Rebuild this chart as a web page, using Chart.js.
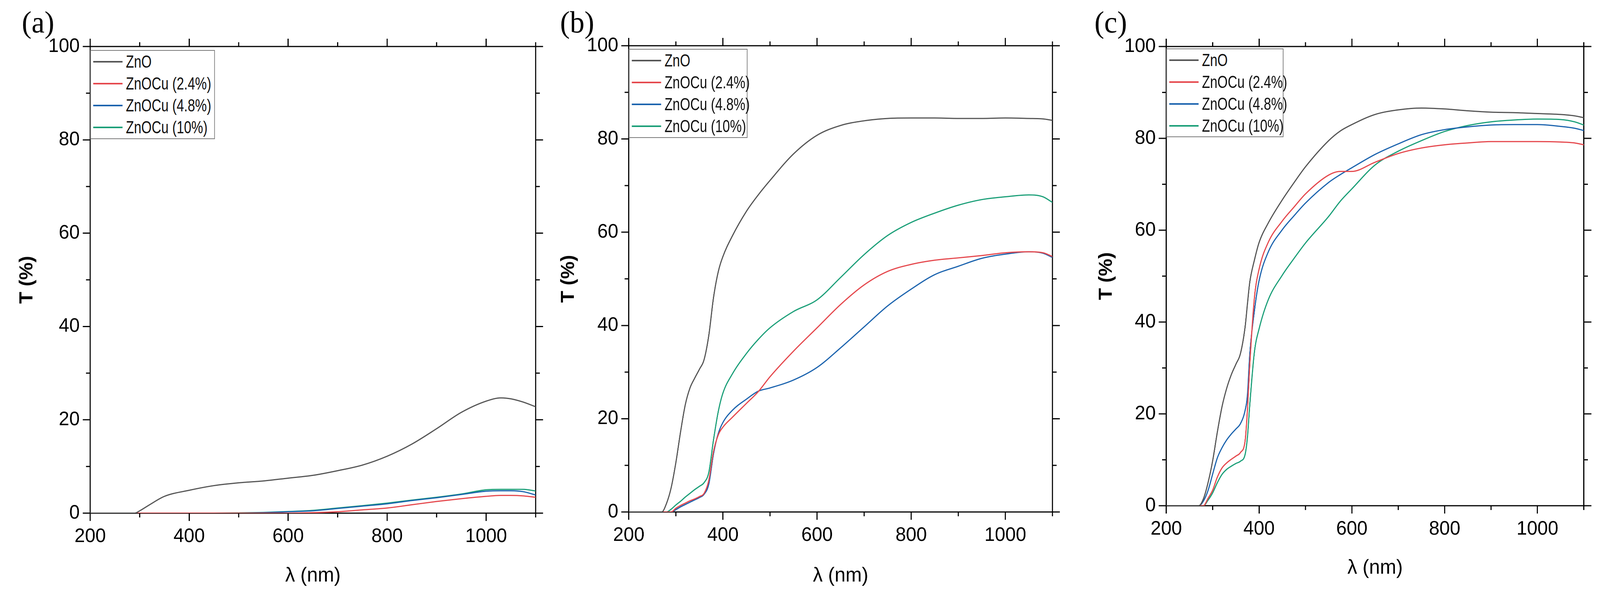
<!DOCTYPE html>
<html>
<head>
<meta charset="utf-8">
<script src="https://cdn.jsdelivr.net/npm/chart.js@4.4.1/dist/chart.umd.min.js"></script>
<style>
  html, body { margin: 0; padding: 0; background: #fff; overflow: hidden; }
  #stage { position: absolute; left: 0; top: 0; width: 4257px; height: 1525px; transform-origin: 0 0; background: #fff; }
  canvas { position: absolute; top: 0; }
  .tag { position: absolute; top: 18px; font-family: 'Liberation Serif', 'Times New Roman', serif; font-size: 78px; line-height: 1; color: #000; }
  .legend { position: absolute; box-sizing: border-box; border: 2px solid #7a7a7a; background: #fff;
            font-family: 'Liberation Sans', Arial, sans-serif; font-size: 44px; color: #111; }
  .legend .row { height: 56px; display: flex; align-items: center; white-space: nowrap; }
  .legend .sw { display: inline-block; width: 78px; height: 4px; margin: 0 9px 0 6px; flex: none; }
  .legend .txt { display: inline-block; transform: scaleX(0.8); transform-origin: 0 50%; }
</style>
</head>
<body>
<div id="stage">
  <canvas id="pa" width="1450" height="1525" style="left:0px"></canvas>
  <canvas id="pb" width="1390" height="1525" style="left:1450px"></canvas>
  <canvas id="pc" width="1417" height="1525" style="left:2840px"></canvas>
  <div class="tag" style="left:58px">(a)</div>
  <div class="tag" style="left:1490px">(b)</div>
  <div class="tag" style="left:2912px">(c)</div>
  <div class="legend" id="lga" style="left:240px;top:128px;width:332px;height:228px"></div>
  <div class="legend" id="lgb" style="left:1673px;top:125px;width:316px;height:228px"></div>
  <div class="legend" id="lgc" style="left:3103px;top:124px;width:312px;height:227px"></div>
</div>
<script>
// series names and colours
const names = ['ZnO', 'ZnOCu (2.4%)', 'ZnOCu (4.8%)', 'ZnOCu (10%)'];
const colors = ['#555555', '#e5484d', '#1b63ae', '#1b9f78'];

// tick positions
const xMinor = [300, 500, 700, 900, 1100];
const yMinor = [10, 30, 50, 70, 90];

// (a) wavelength (nm) and T (%)
const wlA = [200, 250, 290, 300, 320, 350, 400, 450, 500, 550, 600, 650, 700, 750, 800, 850, 900, 950, 1000, 1030, 1050, 1075, 1100];
const znoA = [0, 0, 0, 0.5, 1.8, 3.6, 4.9, 5.9, 6.5, 6.9, 7.5, 8.1, 9.1, 10.3, 12.2, 14.8, 18.1, 21.6, 24.0, 24.7, 24.5, 23.8, 22.8];
const cu24A = [0, 0, 0, 0, 0, 0, 0, 0, 0, 0, 0, 0.1, 0.3, 0.7, 1.1, 1.8, 2.5, 3.1, 3.6, 3.8, 3.8, 3.7, 3.4];
const cu48A = [0, 0, 0, 0, 0, 0, 0, 0, 0, 0.1, 0.3, 0.5, 1.0, 1.5, 2.0, 2.7, 3.3, 4.0, 4.7, 4.8, 4.8, 4.6, 3.9];
const cu10A = [0, 0, 0, 0, 0, 0, 0, 0, 0.05, 0.15, 0.35, 0.6, 1.1, 1.6, 2.15, 2.8, 3.4, 4.1, 5.0, 5.1, 5.1, 5.1, 4.75];

// (b)
const wlB = [200, 250, 270, 280, 290, 300, 310, 320, 330, 340, 350, 360, 370, 380, 390, 400, 420, 450, 475, 500, 550, 600, 650, 700, 750, 800, 850, 900, 950, 1000, 1050, 1080, 1100];
const znoB = [0, 0, 0, 1.8, 5.2, 10.6, 17.2, 23.0, 26.6, 28.7, 30.6, 32.7, 37.9, 46, 51.5, 54.8, 59.2, 64.5, 68, 71.1, 76.8, 80.8, 82.9, 83.9, 84.4, 84.5, 84.5, 84.4, 84.4, 84.5, 84.4, 84.3, 84.0];
const cu24B = [0, 0, 0, 0, 0, 0.8, 1.4, 1.9, 2.4, 2.8, 3.3, 4.0, 6.8, 13, 16.5, 18.2, 20.3, 23.3, 25.8, 29.0, 34.5, 39.5, 44.5, 48.7, 51.6, 53.1, 54.0, 54.5, 55.0, 55.6, 55.8, 55.6, 54.8];
const cu48B = [0, 0, 0, 0, 0, 0.5, 1.1, 1.6, 2.1, 2.6, 3.1, 3.8, 6.0, 12.5, 16.8, 19.2, 21.8, 24.2, 25.9, 26.6, 28.3, 31.0, 35.2, 39.7, 44.2, 47.8, 50.9, 52.7, 54.4, 55.3, 55.8, 55.5, 54.6];
const cu10B = [0, 0, 0, 0, 0.6, 1.5, 2.3, 3.2, 4.0, 4.8, 5.5, 6.3, 8.5, 15.5, 21.5, 25.5, 29.6, 34, 37, 39.5, 43, 45.5, 50.3, 55.2, 59.3, 62.1, 64.1, 65.8, 67.0, 67.6, 68.0, 67.6, 66.4];

// (c)
const wlC = [200, 250, 270, 280, 290, 300, 310, 320, 330, 340, 350, 360, 370, 375, 380, 390, 400, 420, 450, 475, 500, 550, 575, 600, 650, 700, 750, 800, 850, 900, 950, 1000, 1050, 1080, 1100];
const znoC = [0, 0, 0, 1.5, 5.0, 9.8, 16, 21.5, 25.5, 28.5, 30.8, 33.2, 39, 44, 48.7, 53.5, 57.3, 61.6, 66.6, 70.3, 73.8, 79.5, 81.6, 83.0, 85.2, 86.2, 86.6, 86.4, 86.0, 85.7, 85.6, 85.4, 85.2, 84.9, 84.5];
const cu24C = [0, 0, 0, 0, 1.6, 3.4, 6.2, 8.2, 9.3, 10.1, 10.8, 11.6, 14.2, 21, 30.8, 45.3, 51.5, 57.4, 62, 65.0, 67.9, 72.0, 72.8, 72.8, 74.8, 76.7, 77.9, 78.6, 79.0, 79.3, 79.3, 79.3, 79.2, 79.0, 78.6];
const cu48C = [0, 0, 0, 1.0, 3.3, 6.9, 10.4, 12.6, 14.3, 15.6, 16.7, 17.9, 20.8, 24.2, 33, 42.5, 49, 55.3, 60.1, 63.1, 65.9, 70.4, 72.1, 73.6, 76.5, 78.8, 80.8, 81.9, 82.5, 82.9, 83.0, 83.0, 82.6, 82.2, 81.7];
const cu10C = [0, 0, 0, 0, 1.2, 2.8, 5.0, 6.8, 7.9, 8.6, 9.2, 9.7, 11.2, 15, 22, 33.5, 38.5, 44.9, 50.2, 53.8, 57.2, 63, 66.3, 69, 74.2, 77.2, 79.5, 81.5, 82.8, 83.6, 84.0, 84.2, 84.1, 83.6, 82.9];

const tickFont = { family: "'Liberation Sans', Arial, sans-serif", size: 50 };
const xTitleFont = { family: "'Liberation Sans', Arial, sans-serif", size: 52 };
const yTitleFont = { family: "'Liberation Sans', Arial, sans-serif", size: 50, weight: 'bold' };

// the window may be narrower than 4257 px: stretch the stage to fill it
const sx = window.innerWidth / 4257;
const sy = window.innerHeight / 1525;
document.getElementById('stage').style.transform = 'scale(' + sx + ',' + sy + ')';

// short ticks between the labelled ones, on all four sides
const minorTicks = {
  id: 'minorTicks',
  afterDraw(chart, args, opts) {
    const { ctx, chartArea: a, scales } = chart;
    ctx.save();
    ctx.strokeStyle = '#000';
    ctx.lineWidth = 3;
    ctx.beginPath();
    opts.x.forEach(v => {
      const px = scales.x.getPixelForValue(v);
      ctx.moveTo(px, a.bottom); ctx.lineTo(px, a.bottom + 11);
      ctx.moveTo(px, a.top); ctx.lineTo(px, a.top - 11);
    });
    opts.y.forEach(v => {
      const py = scales.y.getPixelForValue(v);
      ctx.moveTo(a.left, py); ctx.lineTo(a.left - 11, py);
      ctx.moveTo(a.right, py); ctx.lineTo(a.right + 11, py);
    });
    ctx.stroke();
    ctx.restore();
  }
};

function buildLegend(id) {
  const el = document.getElementById(id);
  names.forEach((n, i) => {
    const row = document.createElement('div');
    row.className = 'row';
    row.innerHTML = '<span class="sw" style="background:' + colors[i] + '"></span><span class="txt">' + n + '</span>';
    el.appendChild(row);
  });
}

function panel(id, wl, series, box) {
  const grid = { drawOnChartArea: false, drawTicks: true, tickLength: 20, tickWidth: 3, tickColor: '#000' };
  const border = { display: true, color: '#000', width: 3 };
  const datasets = series.map((s, i) => ({
    label: names[i],
    data: wl.map((x, k) => ({ x: x, y: s[k] })),
    borderColor: colors[i],
    backgroundColor: colors[i],
    borderWidth: 3,
    pointRadius: 0,
    fill: false,
    cubicInterpolationMode: 'monotone'
  }));
  return new Chart(document.getElementById(id), {
    type: 'line',
    data: { datasets: datasets },
    plugins: [minorTicks],
    options: {
      responsive: false,
      animation: false,
      devicePixelRatio: 2,
      layout: { padding: 0 },
      plugins: {
        legend: { display: false },
        tooltip: { enabled: false },
        minorTicks: { x: xMinor, y: yMinor }
      },
      scales: {
        x: {
          type: 'linear', position: 'bottom', min: 200, max: 1100,
          ticks: { stepSize: 200, includeBounds: false, font: tickFont, color: '#000', padding: 10, maxRotation: 0, autoSkip: false,
                   callback: v => String(v) },
          grid: grid, border: border,
          title: { display: true, text: 'λ (nm)', font: xTitleFont, color: '#000', padding: { top: 0, bottom: box.xPad } },
          afterFit: s => { s.height = box.bottom; }
        },
        xTop: {
          type: 'linear', position: 'top', min: 200, max: 1100,
          ticks: { stepSize: 200, includeBounds: false, display: false },
          grid: grid, border: border,
          afterFit: s => { s.height = box.top; }
        },
        y: {
          type: 'linear', position: 'left', min: 0, max: 100,
          ticks: { stepSize: 20, font: tickFont, color: '#000', padding: 8, callback: v => String(v) },
          grid: grid, border: border,
          title: { display: true, text: 'T (%)', font: yTitleFont, color: '#000', padding: { top: box.yPad, bottom: 0 } },
          afterFit: s => { s.width = box.left; }
        },
        yRight: {
          type: 'linear', position: 'right', min: 0, max: 100,
          ticks: { stepSize: 20, display: false },
          grid: grid, border: border,
          afterFit: s => { s.width = box.right; }
        }
      }
    }
  });
}

panel('pa', wlA, [znoA, cu24A, cu48A, cu10A], { left: 240, right: 25, top: 119, bottom: 212, xPad: 20, yPad: 42 });
panel('pb', wlB, [znoB, cu24B, cu48B, cu10B], { left: 223, right: 40, top: 117, bottom: 215, xPad: 20, yPad: 33 });
panel('pc', wlC, [znoC, cu24C, cu48C, cu10C], { left: 263, right: 43, top: 119, bottom: 231, xPad: 40, yPad: 74 });

buildLegend('lga');
buildLegend('lgb');
buildLegend('lgc');
</script>
</body>
</html>
